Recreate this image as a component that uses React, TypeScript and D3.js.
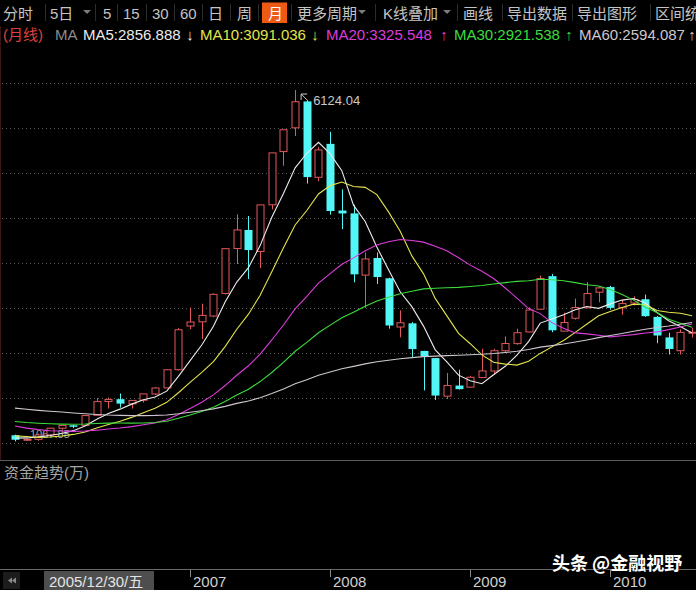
import React from 'react';
import * as d3 from 'd3';

// monthly candles shown on the chart, Oct 2005 .. Aug 2010
const months = [
  '2005-10', '2005-11', '2005-12',
  '2006-01', '2006-02', '2006-03', '2006-04', '2006-05', '2006-06', '2006-07', '2006-08', '2006-09', '2006-10', '2006-11', '2006-12',
  '2007-01', '2007-02', '2007-03', '2007-04', '2007-05', '2007-06', '2007-07', '2007-08', '2007-09', '2007-10', '2007-11', '2007-12',
  '2008-01', '2008-02', '2008-03', '2008-04', '2008-05', '2008-06', '2008-07', '2008-08', '2008-09', '2008-10', '2008-11', '2008-12',
  '2009-01', '2009-02', '2009-03', '2009-04', '2009-05', '2009-06', '2009-07', '2009-08', '2009-09', '2009-10', '2009-11', '2009-12',
  '2010-01', '2010-02', '2010-03', '2010-04', '2010-05', '2010-06', '2010-07', '2010-08',
];

const opens = [
  1157, 1091, 1098,
  1163, 1258, 1300, 1298, 1444, 1642, 1676, 1608, 1660, 1750, 1838, 2100,
  2728, 2789, 2872, 3197, 3843, 4110, 3800, 4472, 5238, 5580, 5960, 4868,
  5349, 4390, 4349, 3461, 3707, 3415, 2714, 2767, 2370, 2267, 1719, 1872,
  1849, 1987, 2081, 2373, 2475, 2643, 2970, 3446, 2655, 2840, 2990, 3215,
  3289, 2990, 3060, 3114, 2860, 2565, 2373, 2630,
];
const highs = [
  1165, 1114, 1180,
  1263, 1306, 1303, 1445, 1692, 1700, 1757, 1660, 1752, 1848, 2107, 2698,
  2994, 3049, 3197, 3848, 4335, 4312, 4471, 5219, 5553, 6124, 5975, 5303,
  5522, 4695, 4473, 3786, 3786, 3424, 2953, 2784, 2371, 2268, 2052, 2100,
  2012, 2402, 2400, 2579, 2689, 2995, 3454, 3478, 2920, 3123, 3361, 3296,
  3307, 3105, 3155, 3181, 2873, 2632, 2681, 2704,
];
const lows = [
  1068, 1074, 1078,
  1152, 1235, 1259, 1295, 1444, 1541, 1554, 1541, 1627, 1735, 1834, 2089,
  2681, 2541, 2856, 3182, 3620, 3404, 3563, 4406, 5034, 5462, 4778, 4812,
  4330, 4123, 3357, 2990, 3333, 2690, 2566, 2284, 1802, 1664, 1678, 1814,
  1844, 1980, 2037, 2355, 2461, 2638, 2970, 2639, 2700, 2820, 2985, 3070,
  2963, 2890, 3023, 2861, 2481, 2319, 2319, 2562,
];
const closes = [
  1092, 1099, 1161,
  1258, 1299, 1298, 1440, 1641, 1672, 1612, 1658, 1752, 1837, 2099, 2675,
  2786, 2881, 3184, 3841, 4110, 3821, 4471, 5219, 5552, 5955, 4871, 5262,
  4383, 4348, 3472, 3693, 3433, 2736, 2775, 2397, 2293, 1728, 1871, 1820,
  1991, 2082, 2373, 2477, 2632, 2959, 3412, 2667, 2779, 2995, 3195, 3277,
  2989, 3051, 3109, 2870, 2592, 2398, 2637, 2639,
];

// closes before the first visible month (Nov 2000 .. Sep 2005), they only feed the averages
const priorCloses = [
  2071, 2073,
  2065, 1959, 2113, 2120, 2214, 2218, 1920, 1834, 1717, 1690, 1717, 1646,
  1491, 1524, 1603, 1667, 1516, 1733, 1652, 1669, 1581, 1508, 1435, 1358,
  1500, 1512, 1511, 1521, 1577, 1487, 1477, 1422, 1367, 1349, 1398, 1497,
  1590, 1675, 1742, 1595, 1556, 1400, 1387, 1343, 1397, 1321, 1341, 1267,
  1191, 1306, 1181, 1160, 1061, 1081, 1083, 1163, 1155,
];

const maPeriods = [5, 10, 20, 30, 60];
const maColors = ['#ececec', '#e4e44c', '#dc3cdc', '#3cdc3c', '#cfc6cf'];
const maLabels = ['MA5:2856.888', 'MA10:3091.036', 'MA20:3325.548', 'MA30:2921.538', 'MA60:2594.087'];
const maArrows = ['↓', '↓', '↑', '↑', '↑'];

const yearTicks = ['2007-01', '2008-01', '2009-01', '2010-01'];
const yearLabels = ['2007', '2008', '2009', '2010'];
const cursorLabel = '2005/12/30/五';
const maxLabel = '6124.04';
const minLabel = '1067.85';

const toolbar = ['分时', '5日', '▾', '5', '15', '30', '60', '日', '周', '月', '更多周期', '▾', 'K线叠加', '▾', '画线', '导出数据', '导出图形', '区间统计'];

const W = 696;
const H = 590;
const FONT = "'Liberation Sans', 'Noto Sans CJK SC', sans-serif";
const RED = '#e2585a';
const CYAN = '#52f6f6';

const toolbarX = [3, 50, 87, 103, 123, 152, 180, 208, 237, 268, 297, 362, 383, 447, 463, 507, 577, 655];
const separatorsX = [45, 95, 117, 146, 174, 202, 230, 258, 291, 375, 457, 502, 572, 650];

export default function App() {
  const x = d3.scalePoint<string>().domain(months).range([15, 692]);
  const y = d3.scaleLinear().domain([1664, 6124]).range([400, 90]);

  const all = [...priorCloses, ...closes];
  const off = priorCloses.length;
  const maSeries = maPeriods.map((n) =>
    months.map((m, i) => ({ m, v: d3.mean(all.slice(off + i - n + 1, off + i + 1)) as number }))
  );
  const line = d3
    .line<{ m: string; v: number }>()
    .x((d) => x(d.m)!)
    .y((d) => y(d.v));

  const gridYs = d3.range(9).map((j) => 442.5 - j * 44.9);
  const legendX = [83, 200, 326, 454, 579];
  const arrowX = [190, 315, 444, 569, 692];

  const peakIdx = d3.maxIndex(highs);
  const px = x(months[peakIdx])!;
  const py = y(highs[peakIdx]);

  return (
    <>
      <style>{'body{margin:0;background:#000}'}</style>
      <svg width={W} height={H} style={{ display: 'block', background: '#000', fontFamily: FONT }}>
        <defs>
          <clipPath id="plot">
            <rect x={0} y={47} width={W} height={413} />
          </clipPath>
        </defs>

        {/* toolbar */}
        {separatorsX.map((sx) => (
          <line key={sx} x1={sx + 0.5} x2={sx + 0.5} y1={4} y2={21} stroke="#2c2c2c" />
        ))}
        <rect x={262} y={2.5} width={25} height={20.5} fill="#ee5a14" />
        {toolbar.map((t, i) =>
          t === '▾' ? (
            <path key={i} d={`M${toolbarX[i] - 4},10 L${toolbarX[i] + 4},10 L${toolbarX[i]},14 Z`} fill="#7a7a7a" />
          ) : (
            <text key={i} x={toolbarX[i]} y={19} fontSize={15} fill={t === '月' ? '#ffffff' : '#c4c4c4'}>
              {t}
            </text>
          )
        )}

        {/* legend row */}
        <text x={3} y={39.5} fontSize={15} fill="#dc4040">(月线)</text>
        <text x={55} y={39.5} fontSize={15} fill="#8c8c8c">MA</text>
        {maLabels.map((l, i) => (
          <g key={l}>
            <text x={legendX[i]} y={39.5} fontSize={15} fill={maColors[i]}>{l}</text>
            <text x={arrowX[i]} y={39.5} fontSize={15} fill={maColors[i]} textAnchor="middle">{maArrows[i]}</text>
          </g>
        ))}

        {/* frame */}
        <line x1={0.5} x2={0.5} y1={26} y2={460} stroke="#3a1616" />
        {gridYs.map((gy) => (
          <line key={gy} x1={2} x2={W} y1={Math.round(gy) + 0.5} y2={Math.round(gy) + 0.5} stroke="#5a5a5a" strokeDasharray="1 3" />
        ))}
        <line x1={0} x2={W} y1={460.5} y2={460.5} stroke="#5c5c5c" />

        <g clipPath="url(#plot)">
          <text x={30} y={438} fontSize={11} fill="#a8a8a8">{minLabel}</text>
          {months.map((m, i) => {
            const cx = Math.round(x(m)!);
            const up = closes[i] >= opens[i];
            const top = y(Math.max(opens[i], closes[i]));
            const bot = y(Math.min(opens[i], closes[i]));
            const hi = y(highs[i]);
            const lo = y(lows[i]);
            if (up) {
              return (
                <g key={m} stroke={RED} fill="#000">
                  <line x1={cx + 0.5} x2={cx + 0.5} y1={hi} y2={top} />
                  <line x1={cx + 0.5} x2={cx + 0.5} y1={bot} y2={lo} />
                  <rect x={cx - 3} y={top} width={7} height={Math.max(1, bot - top)} />
                </g>
              );
            }
            return (
              <g key={m} fill={CYAN}>
                <line x1={cx + 0.5} x2={cx + 0.5} y1={hi} y2={lo} stroke={CYAN} />
                <rect x={cx - 3.5} y={top} width={8} height={Math.max(1.5, bot - top)} />
              </g>
            );
          })}
          {maSeries.map((s, i) => (
            <path key={i} d={line(s) ?? ''} fill="none" stroke={maColors[i]} strokeWidth={1.1} />
          ))}
          <path
            d={`M${px + 6},${py + 4} L${px + 6},${py + 10} M${px + 6},${py + 4} L${px + 12},${py + 4} M${px + 6},${py + 4} L${px + 13},${py + 11}`}
            stroke="#c8c8c8"
            fill="none"
          />
          <text x={px + 18} y={py + 15} fontSize={13} fill="#c8c8c8">{maxLabel}</text>
        </g>

        {/* lower panel */}
        <text x={4} y={478} fontSize={15} fill="#a6a6a6">资金趋势(万)</text>

        {/* time axis */}
        <line x1={0} x2={W} y1={569.5} y2={569.5} stroke="#6a6a6a" />
        <rect x={3} y={572} width={17} height={17} fill="#1c1c1c" />
        <path d="M8,580.5 L12,577.5 L12,583.5 Z M12,580.5 L16,577.5 L16,583.5 Z" fill="#8a8a8a" />
        <rect x={44} y={571} width={110} height={19} fill="#4e4e4e" />
        <text x={49} y={587} fontSize={15} fill="#e4e4e4">{cursorLabel}</text>
        {yearTicks.map((t, i) => {
          const tx = Math.round(x(t)!);
          return (
            <g key={t}>
              <line x1={tx + 0.5} x2={tx + 0.5} y1={570} y2={577} stroke="#8a8a8a" />
              <text x={tx + 3} y={587} fontSize={15} fill="#d0d0d0">{yearLabels[i]}</text>
            </g>
          );
        })}

        {/* watermark */}
        <g fontSize={18} fontWeight="bold" fontFamily="'Noto Sans CJK SC', sans-serif">
          <text x={553} y={571} fill="#000" opacity={0.6}>头条 @金融视野</text>
          <text x={552} y={570} fill="#ffffff">头条 @金融视野</text>
        </g>
      </svg>
    </>
  );
}
